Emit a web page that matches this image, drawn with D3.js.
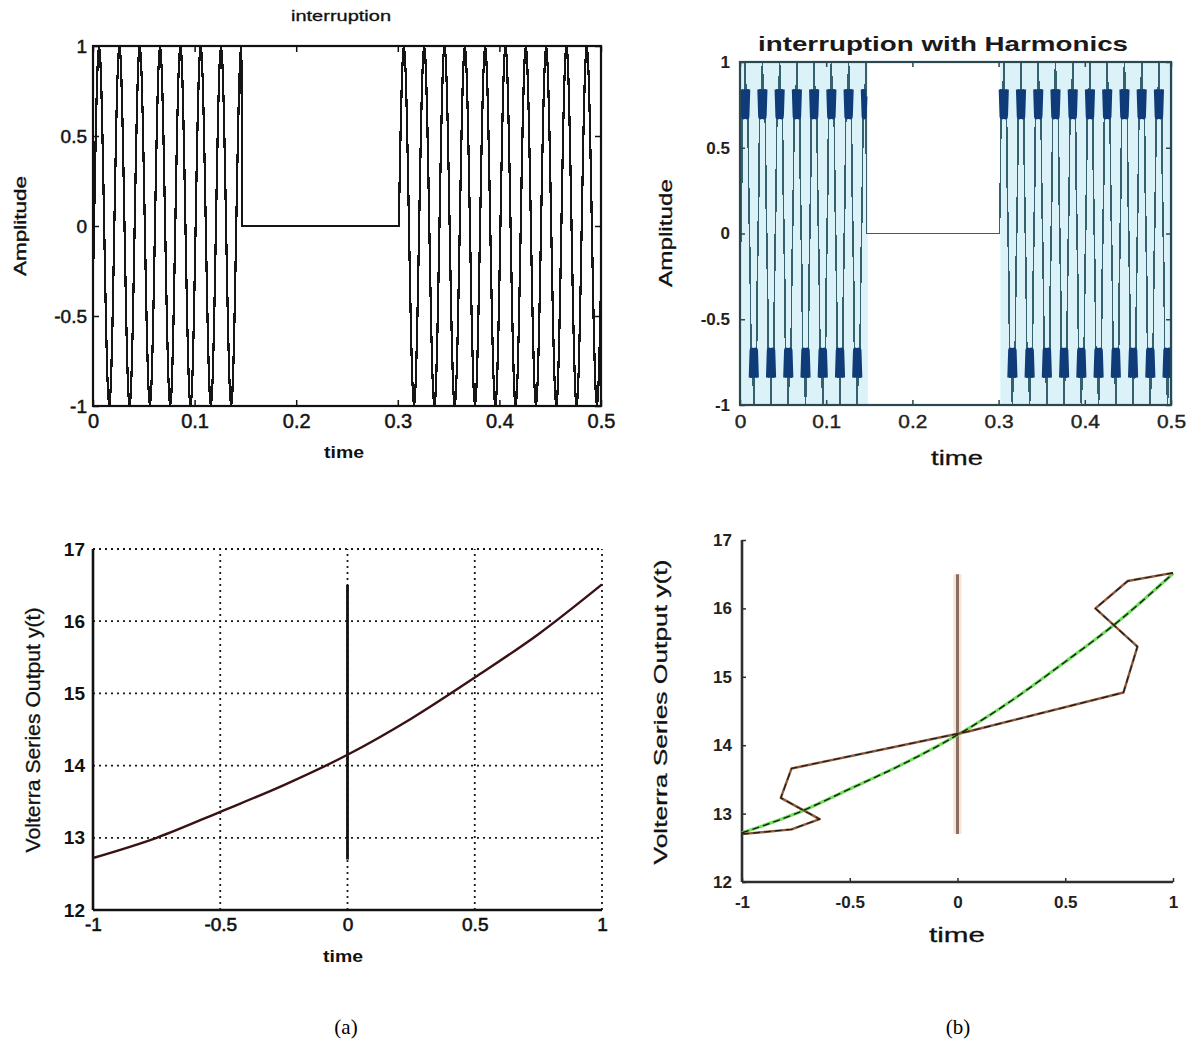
<!DOCTYPE html>
<html>
<head>
<meta charset="utf-8">
<script src="https://cdn.jsdelivr.net/npm/d3@7"></script>
<style>
  body { margin: 0; background: #fff; }
  svg { display: block; }
</style>
</head>
<body>
<svg id="fig" width="1191" height="1042"></svg>
<script>
// ---- supply voltage record: 1 ms samples over half a second ----
const sampleStep = 0.001;
const sampleCount = 501;
// spans (s) during which the supply is present; the gap is the interruption
const supplySpans = [[0, 0.146], [0.302, 0.5]];
// time of the first positive crest (s)
const firstCrest = 0.006;
// one 50 Hz cycle, 20 samples starting at the crest
const cycleLevels = [1, 0.95, 0.81, 0.59, 0.31, 0, -0.31, -0.59, -0.81, -0.95,
                     -1, -0.95, -0.81, -0.59, -0.31, 0, 0.31, 0.59, 0.81, 0.95];
// the same cycle distorted by harmonics (ripple near the crests)
const harmonicCycleLevels = [1, 0.8, 0.68, 0.84, 0.3, 0, -0.3, -0.84, -0.68, -0.8,
                             -1, -0.8, -0.68, -0.84, -0.3, 0, 0.3, 0.84, 0.68, 0.8];
const amplitudeTicks = [-1, -0.5, 0, 0.5, 1];
const timeTicks = [0, 0.1, 0.2, 0.3, 0.4, 0.5];

// ---- Volterra series output ----
const outputTime  = [-1, -0.75, -0.5, -0.25, 0, 0.25, 0.5, 0.75, 1];
const outputValue = [12.72, 13.0, 13.36, 13.73, 14.15, 14.65, 15.22, 15.82, 16.51];
// estimated output traced point by point (panel b)
const estimateTime  = [-1, -0.77, -0.64, -0.82, -0.77, 0.05, 0.77, 0.835, 0.64, 0.79, 1];
const estimateValue = [12.70, 12.77, 12.92, 13.23, 13.66, 14.20, 14.77, 15.44, 16.0, 16.40, 16.52];
// vertical marker at t = 0
const markerTime = 0;
const markerRange = [12.7, 16.5];
const outputTicks = [12, 13, 14, 15, 16, 17];
const lagTicks = [-1, -0.5, 0, 0.5, 1];

const FONT = '"Liberation Sans", Arial, Helvetica, sans-serif';
const svg = d3.select("#fig");
const fmt = d => String(d);

function buildWave(levels) {
  return d3.range(sampleCount).map(k => {
    const t = k * sampleStep;
    const on = supplySpans.some(([a, b]) => t >= a - 1e-9 && t <= b + 1e-9);
    const idx = ((Math.round((t - firstCrest) / sampleStep) % levels.length) + levels.length) % levels.length;
    return { t, v: on ? levels[idx] : 0 };
  });
}

function styleAxis(g, o) {
  g.select(".domain").remove();
  g.selectAll(".tick line").attr("stroke", o.tickColor || "#111").attr("stroke-width", o.tickWidth || 1.5);
  const txt = g.selectAll(".tick text")
    .attr("font-family", FONT)
    .attr("font-size", o.fontSize || 17)
    .attr("font-weight", o.weight || "normal")
    .attr("fill", o.textColor || "#111");
  if (o.heavy) txt.attr("stroke", o.textColor || "#111").attr("stroke-width", o.heavy);
  if (o.stretch) {
    g.selectAll(".tick text").each(function () {
      const w = this.getComputedTextLength();
      if (w > 0) d3.select(this).attr("textLength", w * o.stretch).attr("lengthAdjust", "spacingAndGlyphs");
    });
  }
}

function label(text, x, y, o) {
  const t = svg.append("text")
    .attr("x", x).attr("y", y)
    .attr("text-anchor", "middle")
    .attr("font-family", o.family || FONT)
    .attr("font-size", o.size)
    .attr("font-weight", o.weight || "normal")
    .attr("fill", o.color || "#111")
    .text(text);
  if (o.heavy) t.attr("stroke", o.color || "#111").attr("stroke-width", o.heavy);
  if (o.rotate) t.attr("transform", `rotate(-90,${x},${y})`);
  if (o.length) t.attr("textLength", o.length).attr("lengthAdjust", "spacingAndGlyphs");
  return t;
}

// ================= top left: interruption =================
{
  const x = d3.scaleLinear().domain([0, 0.5]).range([93, 601]);
  const y = d3.scaleLinear().domain([-1, 1]).range([406, 46]);
  const g = svg.append("g");
  g.append("clipPath").attr("id", "clipA").append("rect")
    .attr("x", 93).attr("y", 45).attr("width", 508).attr("height", 362);
  const line = d3.line().x(d => x(d.t)).y(d => y(d.v));
  g.append("path").datum(buildWave(cycleLevels))
    .attr("clip-path", "url(#clipA)")
    .attr("d", line).attr("fill", "none")
    .attr("shape-rendering", "crispEdges")
    .attr("stroke", "#151515").attr("stroke-width", 2.2);
  g.append("rect").attr("x", 93).attr("y", 46).attr("width", 508).attr("height", 360)
    .attr("fill", "none").attr("stroke", "#111").attr("stroke-width", 2.2);

  const o = { fontSize: 19, textColor: "#151515", heavy: 0.5 };
  g.append("g").attr("transform", "translate(93,0)")
    .call(d3.axisLeft(y).tickValues(amplitudeTicks).tickFormat(fmt).tickSize(-6).tickPadding(6))
    .call(s => styleAxis(s, o));
  g.append("g").attr("transform", "translate(0,406)")
    .call(d3.axisBottom(x).tickValues(timeTicks).tickFormat(fmt).tickSize(-6).tickPadding(8))
    .call(s => styleAxis(s, { ...o, fontSize: 20 }));
  g.append("g").attr("transform", "translate(601,0)")
    .call(d3.axisRight(y).tickValues(amplitudeTicks).tickFormat("").tickSize(-6))
    .call(s => styleAxis(s, o));
  g.append("g").attr("transform", "translate(0,46)")
    .call(d3.axisTop(x).tickValues(timeTicks).tickFormat("").tickSize(-6))
    .call(s => styleAxis(s, o));

  label("interruption", 341, 21, { size: 15, length: 100, heavy: 0.3 });
  label("Amplitude", 26, 226, { size: 16, rotate: true, length: 100, heavy: 0.4 });
  label("time", 344, 458, { size: 17, weight: "bold", length: 40 });
}

// ================= top right: interruption with harmonics =================
{
  const x = d3.scaleLinear().domain([0, 0.5]).range([740, 1171]);
  const y = d3.scaleLinear().domain([-1, 1]).range([405, 62]);
  const g = svg.append("g");
  g.append("clipPath").attr("id", "clipB").append("rect")
    .attr("x", 740).attr("y", 61).attr("width", 431).attr("height", 345);
  const wave = buildWave(harmonicCycleLevels);
  // light band behind the oscillating parts
  g.selectAll("rect.band").data(supplySpans).join("rect")
    .attr("class", "band")
    .attr("x", d => x(d[0])).attr("width", d => x(d[1]) - x(d[0]) + 2)
    .attr("y", y(1)).attr("height", y(-1) - y(1))
    .attr("fill", "#dcf2f9");
  const line = d3.line().x(d => x(d.t)).y(d => y(d.v));
  g.append("path").datum(wave)
    .attr("clip-path", "url(#clipB)")
    .attr("d", line).attr("fill", "none")
    .attr("shape-rendering", "crispEdges")
    .attr("stroke", "#35616f").attr("stroke-width", 1.6);
  // harmonic ripple around the crests
  const ripple = d3.line().defined(d => Math.abs(d.v) >= 0.6 && Math.abs(d.v) < 0.95)
    .x(d => x(d.t)).y(d => y(d.v));
  g.append("path").datum(wave)
    .attr("clip-path", "url(#clipB)")
    .attr("d", ripple).attr("fill", "none")
    .attr("stroke", "#0f3c78").attr("stroke-width", 5).attr("stroke-linejoin", "round");
  g.append("rect").attr("x", 740).attr("y", 62).attr("width", 431).attr("height", 343)
    .attr("fill", "none").attr("stroke", "#2b4850").attr("stroke-width", 2.2);

  const o = { fontSize: 17, weight: "bold", textColor: "#222", tickColor: "#2b4850" };
  g.append("g").attr("transform", "translate(740,0)")
    .call(d3.axisLeft(y).tickValues(amplitudeTicks).tickFormat(fmt).tickSize(-5).tickPadding(10))
    .call(s => styleAxis(s, o));
  g.append("g").attr("transform", "translate(0,405)")
    .call(d3.axisBottom(x).tickValues(timeTicks).tickFormat(fmt).tickSize(-5).tickPadding(10))
    .call(s => styleAxis(s, { ...o, fontSize: 19, weight: "normal", stretch: 1.1, heavy: 0.4 }));
  g.append("g").attr("transform", "translate(1171,0)")
    .call(d3.axisRight(y).tickValues(amplitudeTicks).tickFormat("").tickSize(-5))
    .call(s => styleAxis(s, o));
  g.append("g").attr("transform", "translate(0,62)")
    .call(d3.axisTop(x).tickValues(timeTicks).tickFormat("").tickSize(-5))
    .call(s => styleAxis(s, o));

  label("interruption with Harmonics", 943, 51, { size: 21, weight: "bold", length: 370, color: "#1a1a1a" });
  label("Amplitude", 672, 233, { size: 19, rotate: true, length: 108, heavy: 0.3 });
  label("time", 957, 465, { size: 20, length: 52, heavy: 0.3 });
}

// ================= bottom left: Volterra output (a) =================
{
  const x = d3.scaleLinear().domain([-1, 1]).range([93, 602]);
  const y = d3.scaleLinear().domain([12, 17]).range([910, 549]);
  const g = svg.append("g");
  const dots = "2,4";
  // dotted grid
  g.selectAll("line.gy").data(outputTicks.slice(1)).join("line")
    .attr("x1", x(-1)).attr("x2", x(1)).attr("y1", d => y(d)).attr("y2", d => y(d))
    .attr("stroke", "#1a1a1a").attr("stroke-width", 1.8).attr("stroke-dasharray", dots);
  g.selectAll("line.gx").data(lagTicks.slice(1)).join("line")
    .attr("y1", y(12)).attr("y2", y(17)).attr("x1", d => x(d)).attr("x2", d => x(d))
    .attr("stroke", "#1a1a1a").attr("stroke-width", 1.8).attr("stroke-dasharray", dots);
  // solid left and bottom axes
  g.append("line").attr("x1", x(-1)).attr("x2", x(-1)).attr("y1", y(12)).attr("y2", y(17))
    .attr("stroke", "#111").attr("stroke-width", 2.6);
  g.append("line").attr("x1", x(-1)).attr("x2", x(1)).attr("y1", y(12)).attr("y2", y(12))
    .attr("stroke", "#111").attr("stroke-width", 2.6);
  // marker
  g.append("line").attr("x1", x(markerTime)).attr("x2", x(markerTime))
    .attr("y1", y(markerRange[0])).attr("y2", y(markerRange[1]))
    .attr("stroke", "#111").attr("stroke-width", 2.8);
  const line = d3.line().curve(d3.curveMonotoneX).x(d => x(d[0])).y(d => y(d[1]));
  g.append("path").datum(d3.zip(outputTime, outputValue))
    .attr("d", line).attr("fill", "none")
    .attr("stroke", "#3a1216").attr("stroke-width", 2.4);

  const o = { fontSize: 19, textColor: "#111" };
  g.append("g").attr("transform", "translate(93,0)")
    .call(d3.axisLeft(y).tickValues(outputTicks).tickFormat(fmt).tickSize(0).tickPadding(8))
    .call(s => styleAxis(s, { ...o, weight: "bold" }));
  g.append("g").attr("transform", "translate(0,910)")
    .call(d3.axisBottom(x).tickValues(lagTicks).tickFormat(fmt).tickSize(0).tickPadding(8))
    .call(s => styleAxis(s, { ...o, heavy: 0.6 }));

  label("Volterra Series Output y(t)", 40, 730, { size: 20, rotate: true, length: 245, heavy: 0.3 });
  label("time", 343, 962, { size: 17, weight: "bold", length: 40 });
}

// ================= bottom right: Volterra output (b) =================
{
  const x = d3.scaleLinear().domain([-1, 1]).range([742, 1173]);
  const y = d3.scaleLinear().domain([12, 17]).range([882, 540]);
  const g = svg.append("g");
  const axisColor = "#2e2e2e";
  g.append("line").attr("x1", x(-1)).attr("x2", x(-1)).attr("y1", y(12)).attr("y2", y(17))
    .attr("stroke", axisColor).attr("stroke-width", 2.6);
  g.append("line").attr("x1", x(-1)).attr("x2", x(1)).attr("y1", y(12)).attr("y2", y(12))
    .attr("stroke", axisColor).attr("stroke-width", 2.6);

  // marker
  g.append("line").attr("x1", x(markerTime)).attr("x2", x(markerTime))
    .attr("y1", y(markerRange[0])).attr("y2", y(markerRange[1]))
    .attr("stroke", "#f8e4d6").attr("stroke-width", 8);
  g.append("line").attr("x1", x(markerTime)).attr("x2", x(markerTime))
    .attr("y1", y(markerRange[0])).attr("y2", y(markerRange[1]))
    .attr("stroke", "#877062").attr("stroke-width", 3);

  const smooth = d3.line().curve(d3.curveMonotoneX).x(d => x(d[0])).y(d => y(d[1]));
  const straight = d3.line().x(d => x(d[0])).y(d => y(d[1]));
  const out = d3.zip(outputTime, outputValue);
  const est = d3.zip(estimateTime, estimateValue);
  g.append("path").datum(out).attr("d", smooth).attr("fill", "none")
    .attr("stroke", "#6ee05a").attr("stroke-width", 3.2);
  g.append("path").datum(est).attr("d", straight).attr("fill", "none")
    .attr("stroke", "#8d5a3a").attr("stroke-width", 2.4).attr("stroke-linejoin", "round");
  g.append("path").datum(out).attr("d", smooth).attr("fill", "none")
    .attr("stroke", "#1b1b1b").attr("stroke-width", 1.4).attr("stroke-dasharray", "7,4");
  g.append("path").datum(est).attr("d", straight).attr("fill", "none")
    .attr("stroke", "#1b1b1b").attr("stroke-width", 1.2).attr("stroke-dasharray", "7,4");

  const o = { fontSize: 17, weight: "bold", textColor: "#222", tickColor: axisColor };
  g.append("g").attr("transform", "translate(742,0)")
    .call(d3.axisLeft(y).tickValues(outputTicks).tickFormat(fmt).tickSize(-4).tickPadding(10))
    .call(s => styleAxis(s, o));
  g.append("g").attr("transform", "translate(0,882)")
    .call(d3.axisBottom(x).tickValues(lagTicks).tickFormat(fmt).tickSize(-4).tickPadding(14))
    .call(s => styleAxis(s, o));

  label("Volterra Series Output y(t)", 667, 712, { size: 19, rotate: true, length: 305, heavy: 0.3 });
  label("time", 957, 942, { size: 20, length: 56, heavy: 0.3 });
}

// ---- panel captions ----
label("(a)", 346, 1034, { size: 21, family: '"Liberation Serif", "Times New Roman", serif', color: "#000" });
label("(b)", 958, 1034, { size: 21, family: '"Liberation Serif", "Times New Roman", serif', color: "#000" });
</script>
</body>
</html>
